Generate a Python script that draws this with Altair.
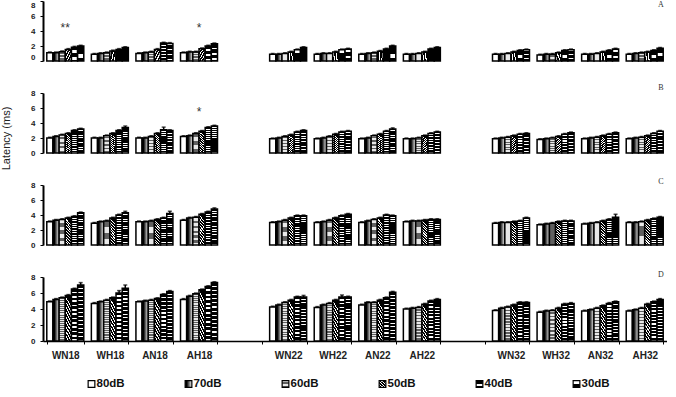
import altair as alt
import pandas as pd

groups = ["WN18", "WH18", "AN18", "AH18", "WN22", "WH22", "AN22", "AH22",
          "WN32", "WH32", "AN32", "AH32"]
x_domain = groups[:4] + [" "] + groups[4:8] + ["  "] + groups[8:]
levels = ["80dB", "70dB", "60dB", "50dB", "40dB", "30dB"]
panels = ["A", "B", "C", "D"]

latency_A = [
    [1.1, 1.1, 1.25, 1.55, 1.85, 2.0], [0.9, 1.0, 1.1, 1.35, 1.55, 1.8],
    [1.0, 1.1, 1.2, 1.55, 2.4, 2.35], [1.1, 1.2, 1.2, 1.65, 2.0, 2.3],
    [0.9, 0.9, 1.0, 1.2, 1.5, 1.8], [0.9, 1.0, 1.0, 1.2, 1.5, 1.6],
    [0.9, 1.0, 1.1, 1.3, 1.6, 2.0], [0.9, 0.9, 1.0, 1.2, 1.6, 1.8],
    [0.9, 0.9, 1.0, 1.2, 1.4, 1.5], [0.8, 0.9, 0.9, 1.1, 1.4, 1.5],
    [0.9, 0.9, 1.0, 1.2, 1.4, 1.6], [0.9, 1.0, 1.1, 1.2, 1.4, 1.7],
]
latency_B = [
    [2.0, 2.2, 2.4, 2.6, 3.0, 3.2], [2.0, 2.0, 2.3, 2.6, 3.0, 3.4],
    [2.0, 2.0, 2.2, 2.6, 3.1, 3.0], [2.2, 2.3, 2.6, 2.9, 3.4, 3.6],
    [1.9, 2.0, 2.2, 2.4, 2.8, 3.0], [1.9, 2.0, 2.2, 2.5, 2.8, 2.9],
    [1.9, 2.0, 2.3, 2.5, 2.9, 3.2], [1.9, 1.9, 2.0, 2.3, 2.6, 2.8],
    [1.9, 2.0, 2.1, 2.3, 2.5, 2.6], [1.8, 1.9, 2.0, 2.2, 2.5, 2.7],
    [1.9, 2.0, 2.1, 2.3, 2.5, 2.7], [1.9, 2.0, 2.1, 2.3, 2.6, 2.9],
]
latency_C = [
    [3.1, 3.3, 3.4, 3.6, 3.8, 4.3], [2.9, 3.1, 3.2, 3.6, 4.0, 4.3],
    [3.1, 3.1, 3.2, 3.4, 3.6, 4.2], [3.3, 3.6, 3.7, 4.1, 4.4, 4.8],
    [3.0, 3.1, 3.3, 3.6, 3.9, 3.9], [3.0, 3.1, 3.3, 3.6, 3.9, 4.1],
    [3.0, 3.2, 3.4, 3.6, 4.0, 3.9], [3.1, 3.2, 3.2, 3.3, 3.4, 3.4],
    [2.9, 3.0, 3.0, 3.1, 3.2, 3.6], [2.7, 2.8, 2.9, 3.1, 3.2, 3.2],
    [2.8, 2.9, 3.0, 3.2, 3.4, 3.7], [3.0, 3.0, 3.1, 3.3, 3.5, 3.7],
]
latency_D = [
    [4.9, 5.2, 5.4, 5.7, 6.5, 7.0], [4.7, 4.9, 5.1, 5.4, 6.0, 6.6],
    [4.9, 5.0, 5.1, 5.3, 5.8, 6.2], [5.2, 5.6, 5.9, 6.4, 6.8, 7.3],
    [4.25, 4.5, 4.8, 5.1, 5.5, 5.5], [4.2, 4.5, 4.7, 5.1, 5.5, 5.5],
    [4.5, 4.8, 4.8, 5.1, 5.4, 6.1], [4.0, 4.1, 4.2, 4.6, 5.0, 5.2],
    [3.8, 4.1, 4.25, 4.5, 4.8, 4.8], [3.6, 3.75, 3.8, 4.1, 4.6, 4.7],
    [3.75, 3.9, 4.1, 4.4, 4.7, 4.9], [3.75, 3.9, 4.1, 4.6, 4.9, 5.2],
]
sem_A = [[0.1] * 6 for _ in range(12)]
sem_B = [
    [0.1, 0.1, 0.1, 0.1, 0.1, 0.1], [0.1, 0.1, 0.1, 0.1, 0.1, 0.2],
    [0.1, 0.1, 0.1, 0.1, 0.35, 0.1], [0.1, 0.1, 0.1, 0.1, 0.1, 0.1],
    [0.1, 0.1, 0.1, 0.1, 0.1, 0.1], [0.1, 0.1, 0.1, 0.1, 0.1, 0.1],
    [0.1, 0.1, 0.1, 0.1, 0.1, 0.15], [0.1, 0.1, 0.1, 0.1, 0.1, 0.1],
    [0.1, 0.1, 0.1, 0.1, 0.1, 0.1], [0.1, 0.1, 0.1, 0.1, 0.1, 0.1],
    [0.1, 0.1, 0.1, 0.1, 0.1, 0.1], [0.1, 0.1, 0.1, 0.1, 0.1, 0.1],
]
sem_C = [
    [0.1, 0.1, 0.1, 0.1, 0.1, 0.1], [0.1, 0.1, 0.1, 0.1, 0.1, 0.2],
    [0.1, 0.1, 0.1, 0.1, 0.1, 0.3], [0.1, 0.1, 0.1, 0.1, 0.1, 0.15],
    [0.1, 0.1, 0.1, 0.1, 0.1, 0.1], [0.1, 0.1, 0.1, 0.1, 0.1, 0.1],
    [0.1, 0.1, 0.1, 0.1, 0.1, 0.1], [0.1, 0.1, 0.1, 0.1, 0.1, 0.1],
    [0.1, 0.1, 0.1, 0.1, 0.1, 0.1], [0.1, 0.1, 0.1, 0.1, 0.1, 0.1],
    [0.1, 0.1, 0.1, 0.1, 0.1, 0.4], [0.1, 0.1, 0.1, 0.1, 0.1, 0.1],
]
sem_D = [
    [0.1, 0.1, 0.1, 0.1, 0.1, 0.3], [0.1, 0.1, 0.1, 0.1, 0.3, 0.4],
    [0.1, 0.1, 0.1, 0.1, 0.1, 0.1], [0.1, 0.1, 0.1, 0.1, 0.1, 0.1],
    [0.1, 0.1, 0.1, 0.1, 0.1, 0.2], [0.1, 0.1, 0.1, 0.1, 0.25, 0.1],
    [0.1, 0.1, 0.1, 0.1, 0.1, 0.1], [0.1, 0.1, 0.1, 0.1, 0.1, 0.1],
    [0.1, 0.1, 0.1, 0.1, 0.1, 0.1], [0.1, 0.1, 0.1, 0.1, 0.1, 0.1],
    [0.1, 0.1, 0.1, 0.1, 0.1, 0.1], [0.1, 0.1, 0.1, 0.1, 0.1, 0.1],
]

star_panel = ["A", "A", "B"]
star_group = ["WN18", "AH18", "AH18"]
star_text = ["**", "*", "*"]
star_y = [4.4, 4.4, 5.5]

latency = {"A": latency_A, "B": latency_B, "C": latency_C, "D": latency_D}
sem = {"A": sem_A, "B": sem_B, "C": sem_C, "D": sem_D}

rows = []
for p in panels:
    for gi, g in enumerate(groups):
        for li, lv in enumerate(levels):
            rows.append({"panel": p, "group": g, "level": lv,
                         "value": latency[p][gi][li], "err": sem[p][gi][li]})
df = pd.DataFrame(rows)
stars = pd.DataFrame({"panel": star_panel, "group": star_group,
                      "text": star_text, "y": star_y})


def stripes(c1, c2, n, frac, x1=0, x2=0, y2=1):
    stops = []
    for i in range(n):
        a = i / n
        b = (i + frac) / n
        c = (i + 1) / n
        stops += [{"color": c1, "offset": a}, {"color": c1, "offset": b},
                  {"color": c2, "offset": b}, {"color": c2, "offset": c}]
    return {"gradient": "linear", "x1": x1, "y1": 0, "x2": x2, "y2": y2,
            "stops": stops}


fills = {
    "80dB": "white",
    "70dB": {"gradient": "linear", "x1": 0, "y1": 0, "x2": 1, "y2": 0,
             "stops": [{"color": "#000000", "offset": 0},
                       {"color": "#000000", "offset": 0.25},
                       {"color": "#ffffff", "offset": 1}]},
    "60dB": stripes("#606060", "#e8e8e8", 22, 0.5),
    "50dB": stripes("#000000", "#ffffff", 10, 0.6, x1=0.25, x2=0, y2=1),
    "40dB": stripes("#000000", "#ffffff", 12, 0.6),
    "30dB": stripes("#000000", "#ffffff", 14, 0.72),
}

W = 624
heights = {"A": 60, "B": 60, "C": 60, "D": 64}
letter_dy = {"A": 4, "B": -5, "C": -3, "D": -2}


def make_panel(p):
    dp = df[df["panel"] == p]
    base = alt.Chart(dp)
    if p == "D":
        xaxis = alt.Axis(title=None, labelFontWeight="bold", labelFontSize=10,
                         labelColor="#222", labelPadding=6, domainColor="black",
                         domainWidth=1.5, tickColor="black", tickSize=3,
                         tickBand="extent", labelAngle=0)
    else:
        xaxis = None
    common = dict(values=[0, 2, 4, 6, 8], tickCount=5, grid=False,
                  domainColor="black", domainWidth=2, tickColor="black",
                  tickSize=3, labelFontSize=8, labelFontWeight="bold",
                  labelColor="#222", labelPadding=5, labelOverlap=False,
                  labelFlush=(p == "A"))
    if p == "B":
        yaxis = alt.Axis(title="Latency (ms)", titleX=-37, titleY=45,
                         titleAngle=270, titleAlign="center",
                         titleBaseline="middle", titleFontSize=11,
                         titleFontWeight="normal", titleColor="#222", **common)
    else:
        yaxis = alt.Axis(title=None, **common)
    X = alt.X("group:N", scale=alt.Scale(domain=x_domain, paddingInner=0.17,
                                          paddingOuter=0.085),
              axis=xaxis, sort=x_domain)
    XO = alt.XOffset("level:N", scale=alt.Scale(domain=levels, paddingInner=0,
                                                  paddingOuter=0))
    Y = alt.Y("value:Q", scale=alt.Scale(domain=[0, 8], nice=False), axis=yaxis)
    layers = []
    for lv in levels:
        layers.append(
            base.transform_filter(alt.datum.level == lv)
            .mark_bar(fill=fills[lv], stroke="black", strokeWidth=1.5)
            .encode(x=X, xOffset=XO, y=Y)
        )
    err = base.transform_calculate(top="datum.value + datum.err")
    layers.append(err.mark_rule(color="black", strokeWidth=1.5).encode(
        x=X, xOffset=XO, y="value:Q", y2="top:Q"))
    layers.append(err.mark_tick(color="black", thickness=1.5, size=4).encode(
        x=X, xOffset=XO, y="top:Q"))
    sp = stars[stars["panel"] == p]
    if len(sp):
        layers.append(alt.Chart(sp).mark_text(
            fontSize=12, color="#333333", baseline="middle").encode(
            x=X, y="y:Q", text="text:N"))
    layers.append(alt.Chart(pd.DataFrame({"t": [p]})).mark_text(
        font="Liberation Serif", fontSize=8, color="#333333", align="center",
        baseline="middle").encode(x=alt.value(W - 6),
                                  y=alt.value(letter_dy[p]), text="t:N"))
    return alt.layer(*layers).properties(width=W, height=heights[p])


legend_df = pd.DataFrame({"level": levels})
LX = alt.X("level:N", scale=alt.Scale(type="point", domain=levels, padding=0.5),
           axis=None)
leg_layers = []
for lv in levels:
    leg_layers.append(
        alt.Chart(legend_df).transform_filter(alt.datum.level == lv)
        .mark_square(size=45, fill=fills[lv], stroke="black", strokeWidth=1.2,
                     opacity=1, filled=True)
        .encode(x=LX, y=alt.value(11))
    )
leg_layers.append(
    alt.Chart(legend_df).mark_text(align="left", dx=5, fontSize=11.5,
                                   fontWeight="bold", color="#111111",
                                   baseline="middle")
    .encode(x=LX, y=alt.value(11), text="level:N")
)
legend = alt.layer(*leg_layers).properties(width=582, height=24)

chart = alt.vconcat(
    *[make_panel(p) for p in panels], legend, spacing=32, bounds="flush"
).properties(
    padding={"left": 0, "top": 0, "right": 0, "bottom": 0}
).configure(font="Liberation Sans").configure_view(stroke=None)

chart.save("out.html", embed_options={"renderer": "svg", "actions": False})
